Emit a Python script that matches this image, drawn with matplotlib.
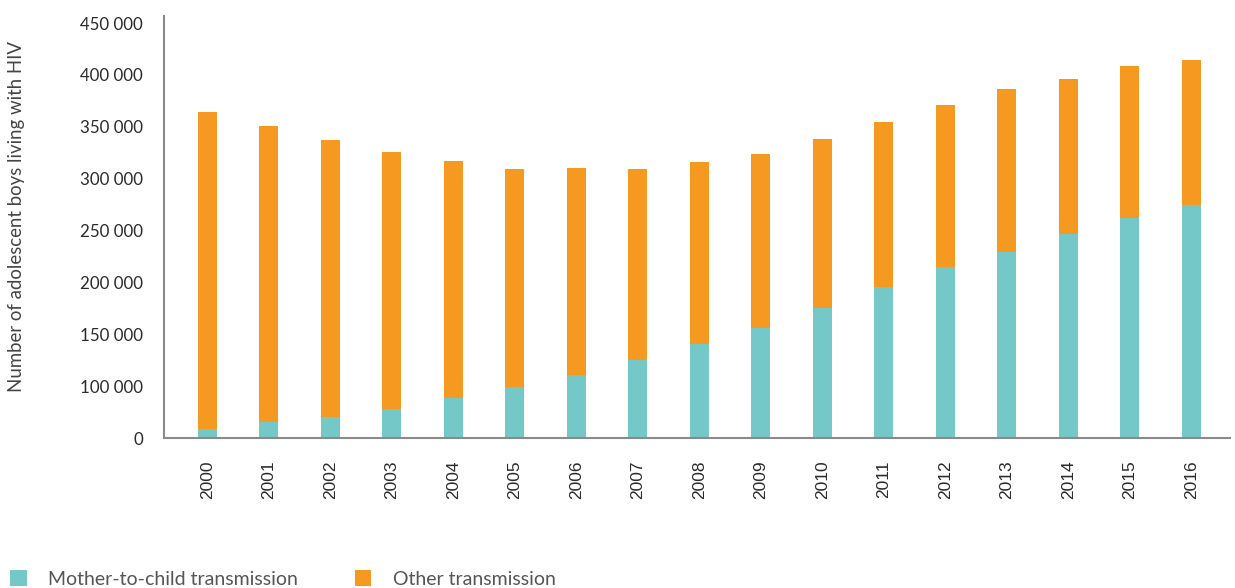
import numpy as np
import matplotlib.pyplot as plt

years = ['2000', '2001', '2002', '2003', '2004', '2005', '2006', '2007', '2008',
         '2009', '2010', '2011', '2012', '2013', '2014', '2015', '2016']
mother_to_child = [10100, 18000, 23100, 31800, 44100, 55600, 68600, 85200, 102600,
                   119900, 141600, 164000, 185600, 202300, 221800, 239100, 252800]
totals = [353600, 338400, 323300, 310300, 300500, 291800, 292900, 291800, 299400,
          308100, 324300, 342700, 361200, 378500, 389300, 403400, 409900]
other = [t - m for t, m in zip(totals, mother_to_child)]

# the source axis shows these nine labels, evenly spaced from the baseline to the top
ytick_labels = ['0', '100 000', '150 000', '200 000', '250 000', '300 000',
                '350 000', '400 000', '450 000']

teal = '#74C8C7'
orange = '#F69921'

plt.rcParams['font.family'] = ['Lato', 'DejaVu Sans']

fig = plt.figure(figsize=(12.35, 5.88), dpi=100)
ax = fig.add_axes([164 / 1235, 1 - 438.3 / 588, (1230 - 164) / 1235, (438.3 - 16) / 588])

x = np.arange(len(years))
b1 = ax.bar(x, mother_to_child, width=0.31, color=teal, label='Mother-to-child transmission')
b2 = ax.bar(x, other, width=0.31, bottom=mother_to_child, color=orange, label='Other transmission')

ax.set_xlim(-0.707, 16.63)
ax.set_ylim(0, 457600)
ax.set_yticks(np.linspace(0, 450000, len(ytick_labels)))
ax.set_yticklabels(ytick_labels)
ax.set_xticks(x)
ax.set_xticklabels(years, rotation=90, family=['Liberation Sans', 'DejaVu Sans'])
ax.tick_params(axis='x', length=0, pad=16, labelsize=12.5, labelcolor='#2a2a2a')
ax.tick_params(axis='y', length=0, pad=15, labelsize=12.2, labelcolor='#2a2a2a')

for s in ['top', 'right']:
    ax.spines[s].set_visible(False)
for s in ['left', 'bottom']:
    ax.spines[s].set_color('#8a8a8a')
    ax.spines[s].set_linewidth(1.5)

fig.text(17 / 1235, 1 - 217 / 588, 'Number of adolescent boys living with HIV',
         rotation=90, ha='center', va='center', fontsize=13.4, color='#444444')

fig.legend(handles=[b1, b2], loc='center left', bbox_to_anchor=(10 / 1235, 1 - 579 / 588),
           ncol=2, frameon=False, fontsize=14, labelcolor='#555555',
           handlelength=0.85, handleheight=0.85, handletextpad=1.13,
           columnspacing=2.9, borderpad=0, borderaxespad=0)

fig.savefig('out.png', dpi=100)
